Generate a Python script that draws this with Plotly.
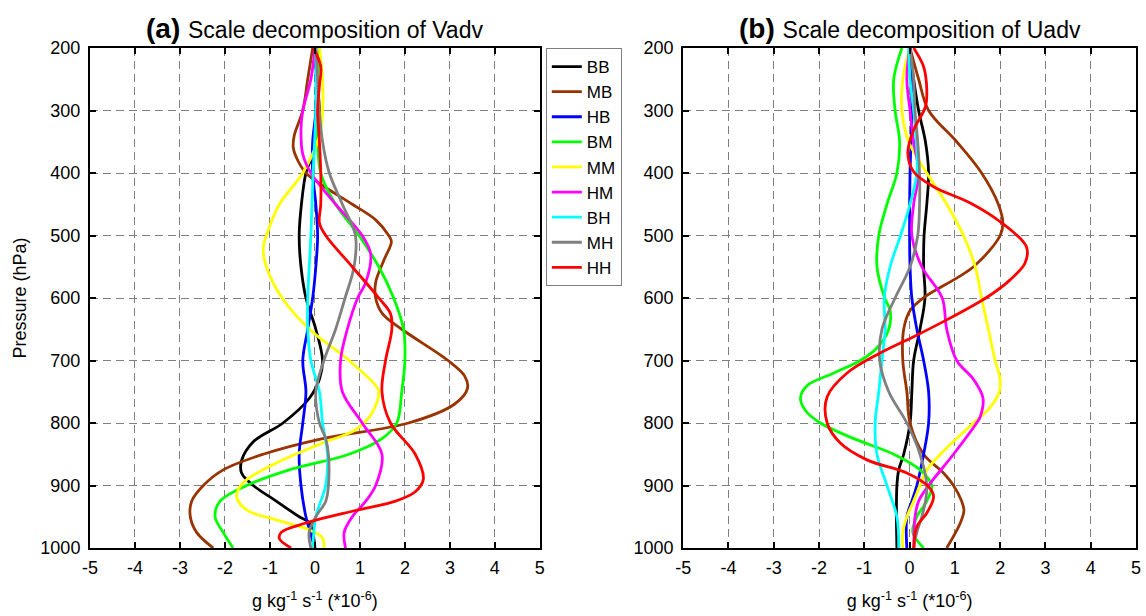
import plotly.graph_objects as go

names = ["BB", "MB", "HB", "BM", "MM", "HM", "BH", "MH", "HH"]
colors = ["#000000", "#993300", "#0000ff", "#00ff00", "#ffff00", "#ff00ff", "#00ffff", "#808080", "#ff0000"]

# ---- panel (a): Vadv ----
a_BB_p = [200, 250, 300, 330, 370, 400, 450, 500, 550, 600, 650, 700, 730, 760, 800, 830, 860, 880, 900, 925, 950, 960, 1000]
a_BB_v = [0.0, 0.05, 0.1, 0.1, -0.05, -0.2, -0.3, -0.35, -0.31, -0.2, 0.02, 0.17, 0.1, -0.12, -0.71, -1.37, -1.63, -1.63, -1.37, -0.86, -0.35, -0.12, 0.0]
a_MB_p = [200, 250, 300, 340, 360, 380, 400, 420, 450, 475, 500, 510, 540, 575, 600, 625, 650, 700, 725, 745, 770, 800, 825, 850, 875, 900, 925, 950, 975, 1000]
a_MB_v = [-0.05, -0.16, -0.27, -0.46, -0.48, -0.38, -0.2, 0.17, 0.83, 1.35, 1.64, 1.70, 1.53, 1.35, 1.35, 1.5, 1.93, 2.96, 3.33, 3.39, 3.1, 2.08, 0.17, -1.15, -2.04, -2.48, -2.74, -2.77, -2.63, -2.26]
a_HB_p = [200, 300, 350, 400, 450, 500, 550, 600, 650, 700, 750, 800, 850, 900, 950, 1000]
a_HB_v = [0.02, 0.02, -0.05, -0.05, 0.02, 0.06, 0.02, -0.05, -0.16, -0.27, -0.2, -0.27, -0.35, -0.31, -0.2, 0.0]
a_BM_p = [200, 300, 400, 450, 500, 550, 600, 650, 700, 750, 800, 825, 850, 875, 900, 925, 950, 975, 1000]
a_BM_v = [0.1, 0.05, 0.13, 0.46, 0.98, 1.42, 1.75, 1.97, 2.0, 1.93, 1.82, 1.49, 0.76, -0.57, -1.52, -2.11, -2.22, -2.04, -1.82]
a_MM_p = [200, 250, 300, 340, 400, 450, 500, 520, 550, 600, 650, 700, 740, 750, 784, 811, 832, 864, 896, 918, 939, 955, 971, 984, 1000]
a_MM_v = [0.1, 0.17, 0.17, 0.1, -0.27, -0.79, -1.08, -1.15, -1.08, -0.73, -0.12, 0.76, 1.35, 1.42, 1.27, 0.9, 0.17, -0.86, -1.6, -1.74, -1.52, -0.86, -0.12, 0.17, 0.2]
a_HM_p = [200, 250, 300, 330, 370, 400, 450, 500, 530, 575, 600, 650, 700, 750, 800, 850, 900, 925, 950, 975, 1000]
a_HM_v = [0.0, -0.09, -0.27, -0.31, -0.27, -0.09, 0.46, 1.05, 1.24, 1.13, 0.95, 0.72, 0.57, 0.61, 1.05, 1.49, 1.35, 1.13, 0.83, 0.65, 0.68]
a_BH_p = [200, 300, 400, 500, 600, 650, 700, 750, 800, 850, 900, 925, 950, 1000]
a_BH_v = [0.02, 0.02, -0.04, -0.09, -0.16, -0.16, -0.09, 0.1, 0.17, 0.28, 0.24, 0.13, 0.02, -0.05]
a_MH_p = [200, 250, 300, 350, 400, 450, 500, 550, 600, 650, 700, 750, 800, 825, 850, 900, 925, 950, 975, 1000]
a_MH_v = [0.02, 0.06, 0.1, 0.17, 0.32, 0.61, 0.9, 0.87, 0.67, 0.46, 0.2, 0.02, 0.1, 0.24, 0.3, 0.3, 0.24, 0.02, -0.13, -0.09]
a_HH_p = [200, 230, 260, 300, 350, 400, 450, 480, 500, 550, 600, 625, 650, 700, 750, 800, 850, 890, 910, 925, 940, 960, 975, 985, 1000]
a_HH_v = [-0.03, 0.13, 0.1, 0.06, 0.1, 0.13, 0.13, 0.1, 0.24, 0.83, 1.42, 1.68, 1.71, 1.57, 1.49, 1.68, 2.23, 2.41, 2.23, 1.79, 0.9, -0.2, -0.75, -0.79, -0.53]

# ---- panel (b): Uadv ----
b_BB_p = [200, 250, 300, 350, 400, 450, 500, 550, 600, 650, 700, 750, 800, 850, 875, 900, 950, 1000]
b_BB_v = [0.01, 0.09, 0.2, 0.35, 0.42, 0.38, 0.32, 0.31, 0.34, 0.23, 0.09, 0.05, 0.01, -0.13, -0.24, -0.28, -0.29, -0.28]
b_MB_p = [200, 250, 300, 350, 400, 450, 480, 500, 550, 600, 620, 650, 700, 750, 800, 850, 880, 900, 925, 940, 960, 1000]
b_MB_v = [0.01, 0.2, 0.42, 1.04, 1.59, 1.96, 2.06, 2.0, 1.41, 0.3, 0.01, -0.13, -0.15, -0.06, 0.01, 0.31, 0.75, 0.97, 1.15, 1.2, 1.12, 0.82]
b_HB_p = [200, 300, 400, 500, 550, 600, 650, 700, 750, 800, 850, 900, 925, 950, 1000]
b_HB_v = [0.01, 0.05, 0.01, 0.0, 0.01, 0.05, 0.16, 0.31, 0.42, 0.42, 0.31, 0.16, 0.05, -0.06, -0.06]
b_BM_p = [200, 250, 300, 350, 400, 450, 500, 550, 600, 620, 650, 680, 700, 720, 740, 760, 780, 800, 825, 850, 875, 900, 925, 950, 975, 1000]
b_BM_v = [-0.17, -0.35, -0.32, -0.22, -0.28, -0.5, -0.68, -0.72, -0.55, -0.43, -0.46, -0.72, -1.09, -1.67, -2.26, -2.41, -2.3, -1.97, -1.23, -0.35, 0.23, 0.49, 0.38, 0.16, 0.07, 0.31]
b_MM_p = [200, 250, 300, 350, 400, 450, 500, 550, 600, 650, 700, 730, 750, 775, 800, 850, 875, 900, 925, 950, 975, 1000]
b_MM_v = [0.0, -0.15, -0.17, -0.02, 0.38, 0.82, 1.19, 1.45, 1.59, 1.74, 1.89, 2.0, 1.98, 1.78, 1.41, 0.68, 0.38, 0.23, 0.09, -0.06, -0.15, -0.15]
b_HM_p = [200, 250, 300, 350, 400, 450, 500, 550, 600, 650, 700, 730, 760, 790, 800, 850, 900, 925, 950, 975, 1000]
b_HM_v = [0.0, -0.06, 0.01, 0.09, 0.2, 0.09, 0.05, 0.27, 0.72, 0.82, 1.04, 1.41, 1.62, 1.56, 1.48, 0.97, 0.42, 0.2, 0.12, 0.1, 0.1]
b_BH_p = [200, 250, 300, 350, 400, 450, 500, 550, 600, 650, 700, 750, 800, 850, 900, 950, 1000]
b_BH_v = [-0.02, 0.01, 0.09, 0.15, 0.16, 0.01, -0.2, -0.43, -0.56, -0.54, -0.61, -0.68, -0.76, -0.72, -0.5, -0.28, -0.24]
b_MH_p = [200, 250, 300, 350, 400, 450, 500, 550, 600, 650, 700, 750, 800, 850, 900, 925, 950, 975, 1000]
b_MH_v = [0.01, 0.09, 0.12, 0.18, 0.22, 0.22, 0.18, 0.01, -0.32, -0.61, -0.66, -0.46, -0.06, 0.23, 0.38, 0.35, 0.27, 0.16, 0.09]
b_HH_p = [200, 230, 267, 294, 331, 368, 398, 422, 448, 478, 518, 544, 571, 592, 608, 635, 662, 688, 720, 758, 800, 832, 859, 880, 902, 918, 944, 966, 1000]
b_HH_v = [0.09, 0.31, 0.38, 0.35, 0.09, -0.04, 0.09, 0.53, 1.34, 2.0, 2.58, 2.55, 2.22, 1.85, 1.5, 0.82, 0.09, -0.65, -1.38, -1.82, -1.82, -1.53, -0.94, -0.06, 0.42, 0.53, 0.38, 0.16, 0.09]

x_ticks = [-5, -4, -3, -2, -1, 0, 1, 2, 3, 4, 5]
x_tick_labels = ["-5", "-4", "-3", "-2", "-1", "0", "1", "2", "3", "4", "5"]
p_ticks = [200, 300, 400, 500, 600, 700, 800, 900, 1000]

panel_a = [(a_BB_p, a_BB_v), (a_MB_p, a_MB_v), (a_HB_p, a_HB_v), (a_BM_p, a_BM_v), (a_MM_p, a_MM_v),
           (a_HM_p, a_HM_v), (a_BH_p, a_BH_v), (a_MH_p, a_MH_v), (a_HH_p, a_HH_v)]
panel_b = [(b_BB_p, b_BB_v), (b_MB_p, b_MB_v), (b_HB_p, b_HB_v), (b_BM_p, b_BM_v), (b_MM_p, b_MM_v),
           (b_HM_p, b_HM_v), (b_BH_p, b_BH_v), (b_MH_p, b_MH_v), (b_HH_p, b_HH_v)]

FONT = "Liberation Sans, Arial, sans-serif"
fig = go.Figure()
for i, (p, v) in enumerate(panel_a):
    fig.add_trace(go.Scatter(x=v, y=p, mode="lines", name=names[i], legendgroup=names[i],
                             line=dict(color=colors[i], width=2.8, shape="spline", smoothing=1.0),
                             xaxis="x", yaxis="y"))
for i, (p, v) in enumerate(panel_b):
    fig.add_trace(go.Scatter(x=v, y=p, mode="lines", name=names[i], legendgroup=names[i], showlegend=False,
                             line=dict(color=colors[i], width=2.8, shape="spline", smoothing=1.0),
                             xaxis="x2", yaxis="y2"))

ax_common = dict(showline=True, mirror="ticks", linecolor="black", linewidth=2,
                 ticks="inside", ticklen=6, tickwidth=2, tickcolor="black",
                 showgrid=True, gridcolor="#7f7f7f", gridwidth=1, griddash="8px,5px",
                 zeroline=False, tickfont=dict(family=FONT, size=18, color="black"))

xtitle = dict(text="g kg<sup>-1</sup> s<sup>-1</sup> (*10<sup>-6</sup>)",
              font=dict(family=FONT, size=18, color="black"), standoff=18)

d1 = [0, 452 / 1051]
d2 = [596 / 1051, 1]

fig.update_layout(
    width=1146, height=616,
    margin=dict(l=90, r=5, t=48, b=68),
    paper_bgcolor="white", plot_bgcolor="white",
    font=dict(family=FONT, color="black"),
    xaxis=dict(domain=d1, range=[-5, 5], tickvals=x_ticks, ticktext=x_tick_labels, title=xtitle,
               anchor="y", ticklabelstandoff=2, **ax_common),
    yaxis=dict(domain=[0, 1], range=[1000, 200], tickvals=p_ticks, anchor="x", ticklabelstandoff=4,
               title=dict(text="Pressure (hPa)", font=dict(family=FONT, size=18, color="black"), standoff=9),
               **ax_common),
    xaxis2=dict(domain=d2, range=[-5, 5], tickvals=x_ticks, ticktext=x_tick_labels, title=xtitle,
                anchor="y2", ticklabelstandoff=2, **ax_common),
    yaxis2=dict(domain=[0, 1], range=[1000, 200], tickvals=p_ticks, anchor="x2", ticklabelstandoff=4,
                **ax_common),
    legend=dict(x=(548 - 90) / 1051, y=1, xanchor="left", yanchor="top",
                bgcolor="white", bordercolor="#7f7f7f", borderwidth=1,
                font=dict(family=FONT, size=17, color="black"),
                tracegroupgap=0, itemwidth=30),
    annotations=[
        dict(text="<b>(a)</b> <span style='font-size:23px'>Scale decomposition of Vadv</span>",
             x=(d1[0] + d1[1]) / 2, y=1, xref="paper", yref="paper", xanchor="center", yanchor="bottom",
             yshift=2, showarrow=False, font=dict(family=FONT, size=28, color="black")),
        dict(text="<b>(b)</b> <span style='font-size:23px'>Scale decomposition of Uadv</span>",
             x=(d2[0] + d2[1]) / 2, y=1, xref="paper", yref="paper", xanchor="center", yanchor="bottom",
             yshift=2, showarrow=False, font=dict(family=FONT, size=28, color="black")),
    ],
)

fig.write_html("out.html")
